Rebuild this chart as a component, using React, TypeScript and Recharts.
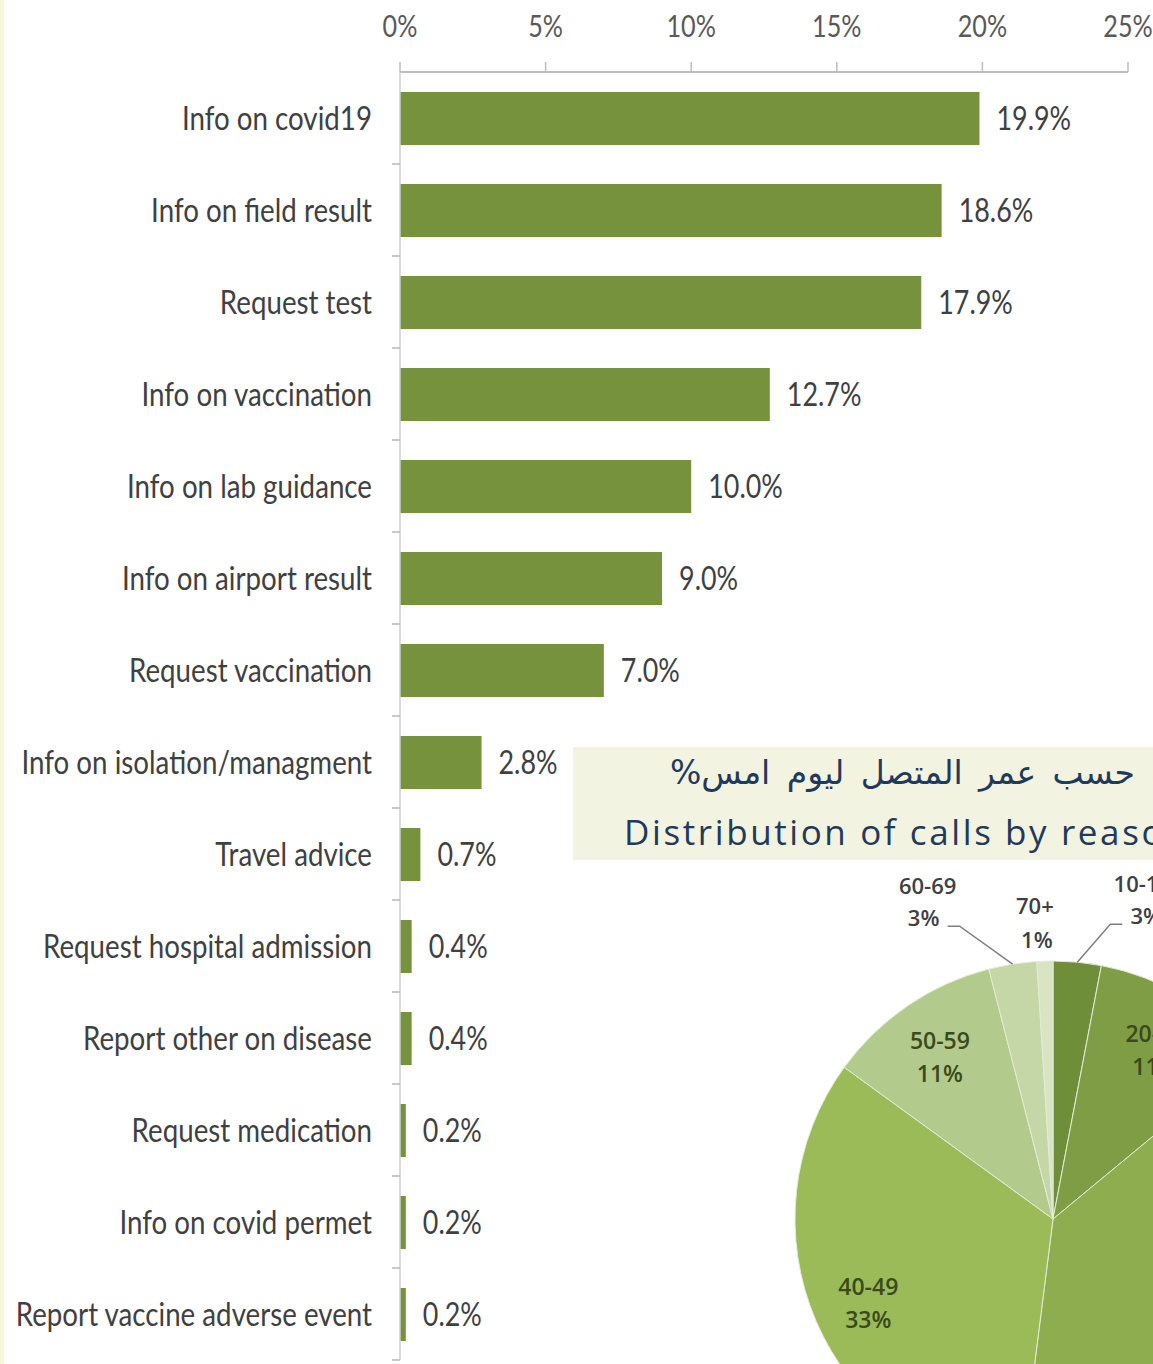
import React from "react";
import {
  BarChart,
  Bar,
  XAxis,
  YAxis,
  LabelList,
  PieChart,
  Pie,
  Cell,
} from "recharts";

const reasons = [
  "Info on covid19",
  "Info on field result",
  "Request test",
  "Info on vaccination",
  "Info on lab guidance",
  "Info on airport result",
  "Request vaccination",
  "Info on isolation/managment",
  "Travel advice",
  "Request hospital admission",
  "Report other on disease",
  "Request medication",
  "Info on covid permet",
  "Report vaccine adverse event",
];
const reasonShare = [19.9, 18.6, 17.9, 12.7, 10.0, 9.0, 7.0, 2.8, 0.7, 0.4, 0.4, 0.2, 0.2, 0.2];
const shareTicks = [0, 5, 10, 15, 20, 25];

const ageGroups = ["10-19", "20-29", "30-39", "40-49", "50-59", "60-69", "70+"];
const ageShare = [3, 11, 38, 33, 11, 3, 1];
const ageColors = ["#6f8e3a", "#7f9d45", "#8dad4f", "#9bbb59", "#b2ca8b", "#c5d6a7", "#d8e4c4"];

const W = 1153;
const H = 1364;
const AXIS_X = 400;
const TOP = 72;
const BOTTOM = 4;
const BAND = (H - TOP - BOTTOM) / reasons.length;

const barData = reasons.map((name, i) => ({ name, value: reasonShare[i] }));
const pieData = ageGroups.map((name, i) => ({ name, value: ageShare[i] }));

// the source uses a narrow Calibri-like face; squeeze Lato horizontally
const FONT = "Lato, 'Open Sans', sans-serif";
const SQUEEZE = 0.84;

const NarrowText = ({ x, y, anchor, size, fill, dy, children }: any) => (
  <text
    transform={`translate(${x},${y}) scale(${SQUEEZE},1)`}
    x={0}
    y={0}
    dy={dy}
    textAnchor={anchor}
    fill={fill}
    fontSize={size}
    fontFamily={FONT}
  >
    {children}
  </text>
);

const CategoryTick = ({ y, payload }: any) => (
  <g>
    <NarrowText x={AXIS_X - 28} y={y} dy="0.35em" anchor="end" size={33} fill="#404040">
      {payload.value}
    </NarrowText>
    <line x1={AXIS_X - 8} x2={AXIS_X} y1={y + BAND / 2} y2={y + BAND / 2} stroke="#b8b8b8" strokeWidth={1.5} />
  </g>
);

const ShareTick = ({ x, y, payload }: any) => (
  <NarrowText x={x} y={y} anchor="middle" size={30} fill="#595959">
    {`${payload.value}%`}
  </NarrowText>
);

const ValueLabel = ({ x, y, width, height, value }: any) => (
  <NarrowText x={x + width + 17} y={y + height / 2} dy="0.35em" anchor="start" size={32} fill="#404040">
    {`${Number(value).toFixed(1)}%`}
  </NarrowText>
);

const RAD = Math.PI / 180;

const PieLabel = (props: any) => {
  const { cx, cy, midAngle, outerRadius, index } = props;
  const pct = ageShare[index];
  const name = ageGroups[index];
  const cos = Math.cos(-midAngle * RAD);
  const sin = Math.sin(-midAngle * RAD);

  if (pct >= 5) {
    const r = outerRadius * 0.78;
    const x = cx + r * cos;
    const y = cy + r * sin;
    return (
      <text x={x} y={y} textAnchor="middle" fill="#3b4a1c" fontSize={23} fontWeight={600} fontFamily="'Open Sans', sans-serif">
        <tspan x={x} dy={-4}>{name}</tspan>
        <tspan x={x} dy={33}>{pct}%</tspan>
      </text>
    );
  }

  const ex = cx + outerRadius * cos;
  const ey = cy + outerRadius * sin;
  if (pct < 2) {
    return (
      <text x={ex} y={ey} textAnchor="middle" fill="#404040" fontSize={22} fontWeight={600} fontFamily="'Open Sans', sans-serif">
        <tspan x={ex - 10} dy={-47}>{name}</tspan>
        <tspan x={ex - 8} dy={34}>{pct}%</tspan>
      </text>
    );
  }
  const side = cos >= 0 ? 1 : -1;
  const kx = ex + side * (side > 0 ? 33 : 53);
  const ky = ey - 38;
  const hx = kx + side * 12;
  const tx = hx + side * 24;
  return (
    <g>
      <polyline points={`${ex},${ey} ${kx},${ky} ${hx},${ky}`} fill="none" stroke="#7f7f7f" strokeWidth={1.5} />
      <text x={tx} y={ky} textAnchor="middle" fill="#404040" fontSize={22} fontWeight={600} fontFamily="'Open Sans', sans-serif">
        <tspan x={tx - side * 4} dy={-32}>{name}</tspan>
        <tspan x={tx} dy={32}>{pct}%</tspan>
      </text>
    </g>
  );
};

export default function App() {
  return (
    <div style={{ position: "absolute", left: 0, top: 0, width: W, height: H, overflow: "hidden", background: "#fff" }}>
      <div style={{ position: "absolute", left: 0, top: 0, width: 4, height: H, background: "#f7f7de" }} />
      <div style={{ position: "absolute", left: 0, top: 0 }}>
        <BarChart
          width={W}
          height={H}
          data={barData}
          layout="vertical"
          margin={{ top: 0, right: 25, bottom: BOTTOM, left: 0 }}
        >
          <XAxis
            type="number"
            orientation="top"
            domain={[0, 25]}
            ticks={shareTicks}
            height={TOP}
            axisLine={{ stroke: "#bdbdbd", strokeWidth: 2 }}
            tickLine={{ stroke: "#bdbdbd", strokeWidth: 1.5 }}
            tickSize={10}
            tickMargin={25}
            tick={<ShareTick />}
            interval={0}
          />
          <YAxis
            type="category"
            dataKey="name"
            width={AXIS_X}
            axisLine={{ stroke: "#cfcfcf", strokeWidth: 1.5 }}
            tickLine={false}
            tickSize={0}
            tick={<CategoryTick />}
            interval={0}
          />
          <Bar dataKey="value" fill="#76923c" barSize={53} isAnimationActive={false}>
            <LabelList dataKey="value" content={<ValueLabel />} />
          </Bar>
        </BarChart>
      </div>

      <div
        style={{
          position: "absolute",
          left: 573,
          top: 747,
          width: W - 573,
          height: 113,
          background: "#f3f3e1",
          overflow: "hidden",
        }}
      >
        <div
          dir="rtl"
          style={{
            position: "absolute",
            left: 97,
            top: 6,
            whiteSpace: "nowrap",
            fontFamily: "'DejaVu Sans', sans-serif",
            fontSize: 33,
            wordSpacing: 6,
            color: "#1f3a5c",
          }}
        >
          توزيع المكالمات حسب عمر المتصل ليوم امس%
        </div>
        <div
          style={{
            position: "absolute",
            left: 51,
            top: 61,
            whiteSpace: "nowrap",
            fontFamily: "'Open Sans', sans-serif",
            fontSize: 35,
            letterSpacing: 2.6,
            color: "#1f3a5c",
          }}
        >
          Distribution of calls by reason
        </div>
      </div>

      <div style={{ position: "absolute", left: 0, top: 0 }}>
        <PieChart width={W} height={H} margin={{ top: 0, right: 0, bottom: 0, left: 0 }}>
          <Pie
            data={pieData}
            dataKey="value"
            nameKey="name"
            cx={1053}
            cy={1219}
            outerRadius={258}
            startAngle={90}
            endAngle={-270}
            stroke="#e4ebd6"
            strokeWidth={1}
            label={PieLabel}
            labelLine={false}
            isAnimationActive={false}
          >
            {pieData.map((d, i) => (
              <Cell key={d.name} fill={ageColors[i]} />
            ))}
          </Pie>
        </PieChart>
      </div>
    </div>
  );
}
